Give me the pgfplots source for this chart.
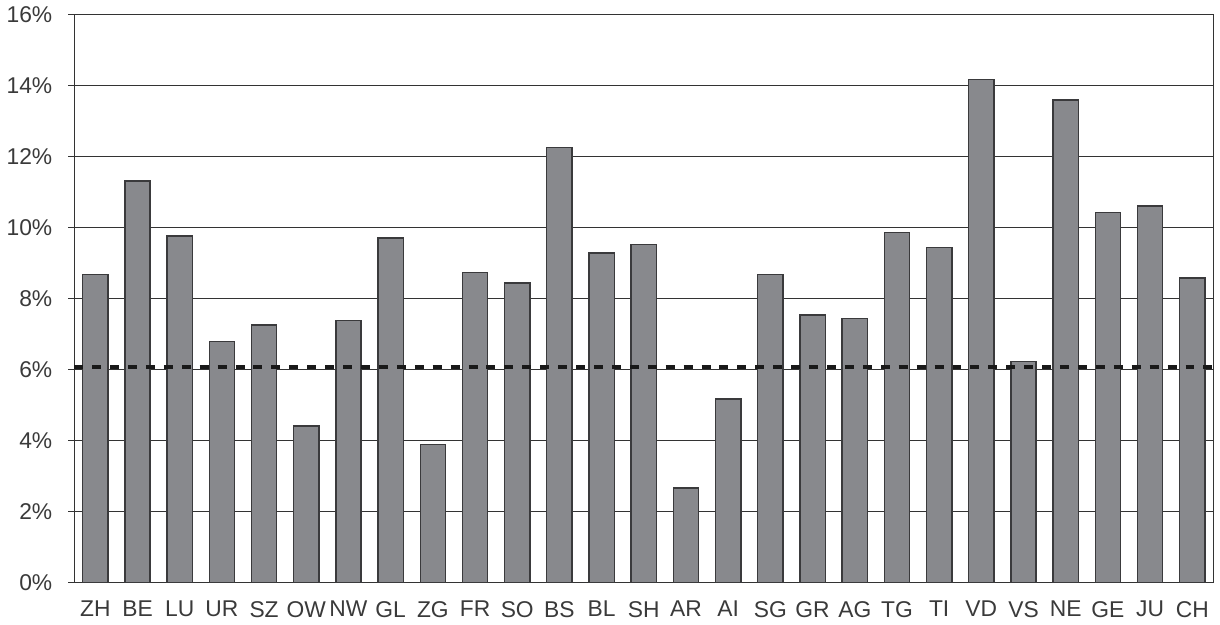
\documentclass[border=0pt]{standalone}
\usepackage{pgfplots}
\pgfplotsset{compat=1.18}
\usepackage{fontspec}
\setmainfont{Liberation Sans}
\definecolor{barfill}{HTML}{88898D}
\definecolor{baredge}{HTML}{3A3A3C}
\definecolor{txt}{HTML}{3A3A3A}

\begin{document}
\begin{tikzpicture}
  \begin{axis}[
      scale only axis,
      width=572bp, height=285bp,
      xmin=-0.5, xmax=26.5,
      ymin=0, ymax=16,
      font=\fontsize{11.5}{13}\selectfont\color{txt},
      axis line style={draw=black!80, line width=0.6bp},
      xtick={0,...,26},
      xticklabels={ZH,BE,LU,UR,SZ,OW,NW,GL,ZG,FR,SO,BS,BL,SH,AR,AI,SG,GR,AG,TG,TI,VD,VS,NE,GE,JU,CH},
      x tick style={draw=none},
      extra x ticks={-0.5,0.5,...,26.5},
      extra x tick labels={},
      extra x tick style={grid=none, major tick length=3bp, tick style={draw=black!80, line width=0.6bp}},
      ytick={0,2,...,16},
      yticklabels={0\%,2\%,4\%,6\%,8\%,10\%,12\%,14\%,16\%},
      ytick pos=left,
      tick align=outside,
      major tick length=3bp,
      y tick style={draw=black!80, line width=0.6bp},
      ymajorgrids,
      grid style={draw=black!80, line width=0.5bp},
      yticklabel style={xshift=-4.5bp},
      xticklabel style={yshift=-3bp},
      clip=false,
    ]
    \addplot[ybar, bar width=0.6, fill=barfill, draw=baredge, line width=0.7bp]
      coordinates {
        (0,8.67) (1,11.31) (2,9.76) (3,6.78) (4,7.25) (5,4.41) (6,7.38)
        (7,9.71) (8,3.89) (9,8.73) (10,8.44) (11,12.26) (12,9.28) (13,9.52)
        (14,2.66) (15,5.17) (16,8.67) (17,7.54) (18,7.43) (19,9.86) (20,9.44)
        (21,14.17) (22,6.22) (23,13.60) (24,10.42) (25,10.61) (26,8.58)
      };
    \addplot[black!90, line width=2bp, dash pattern=on 4.5bp off 4.5bp]
      coordinates {(-0.5,6.07) (26.5,6.07)};
  \end{axis}
\end{tikzpicture}
\end{document}
